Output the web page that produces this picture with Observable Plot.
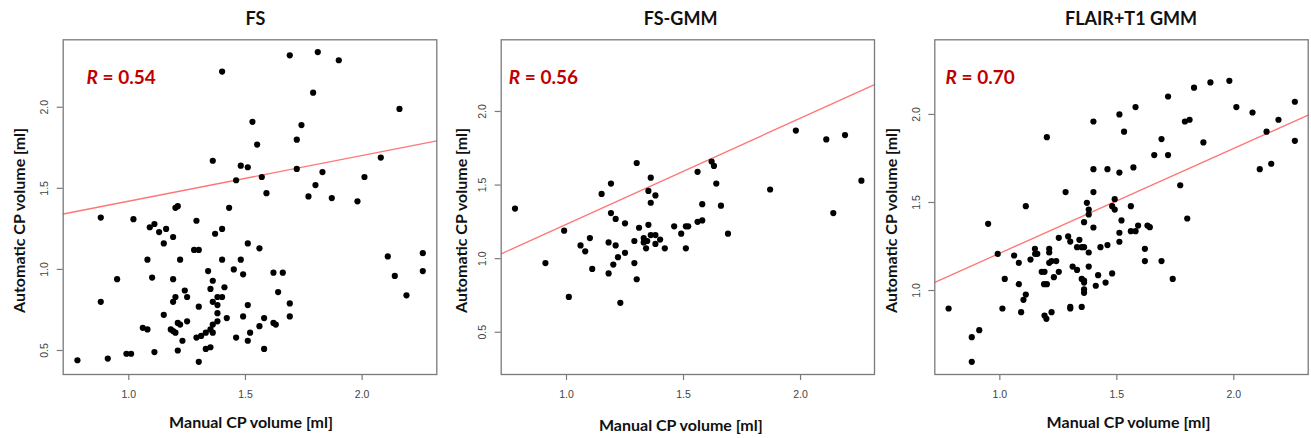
<!DOCTYPE html>
<html><head><meta charset="utf-8">
<script src="https://cdn.jsdelivr.net/npm/d3@7"></script>
<script src="https://cdn.jsdelivr.net/npm/@observablehq/plot@0.6"></script>
<style>
body{margin:0;background:#fff;}
#wrap{position:relative;width:1311px;height:438px;overflow:hidden;background:#fff;}
#wrap > div{position:absolute;top:0;}
</style></head><body><div id="wrap"></div>
<script>
// ---------- data ----------
const panelTitles = ["FS", "FS-GMM", "FLAIR+T1 GMM"];
const rValues = ["0.54", "0.56", "0.70"];
const fitIntercepts = [1.139, 0.513, 0.617];
const fitSlopes = [0.282, 0.721, 0.595];
const xTicks = [1.0, 1.5, 2.0];
const yTicksFS = [0.5, 1.0, 1.5, 2.0];
const yTicksFSGMM = [0.5, 1.0, 1.5, 2.0];
const yTicksFLAIR = [1.0, 1.5, 2.0];
const xDomains = [[0.719, 2.32], [0.721, 2.316], [0.722, 2.318]];
const yDomains = [[0.352, 2.416], [0.213, 2.487], [0.523, 2.424]];
const xLabel = "Manual CP volume [ml]";
const yLabel = "Automatic CP volume [ml]";

const fsX = [1.69,1.81,1.90,1.40,1.79,2.16,1.53,1.74,1.72,1.55,2.08,1.36,1.48,1.51,1.72,1.83,1.46,1.57,2.01,1.80,
  1.59,1.77,1.87,1.98,1.43,1.20,1.21,0.88,1.02,1.29,1.11,1.09,1.13,1.16,1.40,1.37,1.19,1.15,1.51,1.56,
  1.28,1.30,2.11,2.26,1.08,1.22,1.40,1.48,1.45,2.26,0.95,1.10,1.19,1.34,1.49,1.36,1.62,1.66,2.14,1.41,
  1.35,1.24,1.64,2.19,1.20,1.25,1.38,1.40,0.88,1.19,1.36,1.38,1.30,1.51,1.69,1.15,1.38,1.49,1.69,1.42,
  1.58,1.25,1.21,1.22,1.38,1.36,1.56,1.62,1.63,1.06,1.08,1.18,1.19,1.20,1.33,1.36,1.52,1.29,1.31,1.46,
  1.23,1.51,1.35,1.33,1.58,1.21,0.99,1.01,1.11,0.91,0.78,1.30,1.35];
const fsY = [2.32,2.34,2.29,2.22,2.09,1.99,1.91,1.89,1.80,1.77,1.69,1.67,1.64,1.63,1.62,1.60,1.55,1.57,1.57,1.52,
  1.47,1.45,1.44,1.42,1.38,1.38,1.39,1.32,1.31,1.30,1.28,1.26,1.23,1.25,1.25,1.22,1.20,1.16,1.16,1.13,
  1.12,1.12,1.08,1.10,1.06,1.06,1.06,1.06,1.00,0.99,0.94,0.95,0.94,0.99,0.97,0.93,0.98,0.98,0.96,0.89,
  0.88,0.87,0.86,0.84,0.83,0.83,0.83,0.83,0.80,0.80,0.80,0.78,0.77,0.78,0.79,0.72,0.73,0.71,0.71,0.70,
  0.70,0.68,0.67,0.66,0.68,0.66,0.65,0.67,0.66,0.64,0.63,0.63,0.62,0.61,0.61,0.61,0.61,0.58,0.59,0.58,
  0.56,0.56,0.52,0.51,0.51,0.50,0.48,0.48,0.49,0.45,0.44,0.43,0.63];

const fsgmmX = [0.78,0.91,0.99,1.01,1.06,1.08,1.10,1.11,1.15,1.18,1.18,1.19,1.19,1.20,1.21,1.21,1.22,1.23,1.25,1.25,
  1.29,1.29,1.30,1.30,1.31,1.33,1.33,1.34,1.345,1.35,1.35,1.36,1.36,1.36,1.38,1.38,1.38,1.40,1.42,1.46,
  1.49,1.51,1.52,1.51,1.56,1.56,1.58,1.58,1.62,1.63,1.64,1.66,1.69,1.87,1.98,2.11,2.14,2.19,2.26];
const fsgmmY = [1.34,0.97,1.19,0.74,1.09,1.05,1.14,0.93,1.44,0.90,1.11,1.51,1.31,0.96,1.09,1.27,1.01,0.70,1.24,1.04,
  1.12,0.97,1.65,0.86,1.21,1.14,1.11,1.07,1.12,1.23,1.46,1.55,1.38,1.16,1.43,1.16,1.10,1.13,1.07,1.22,
  1.17,1.22,1.22,1.07,1.25,1.59,1.37,1.26,1.66,1.63,1.51,1.36,1.17,1.47,1.87,1.81,1.31,1.84,1.53];

const flairX = [0.781,0.880,0.912,0.880,0.950,0.991,1.021,1.011,1.061,1.081,1.081,1.111,1.111,1.101,1.091,1.131,1.150,1.151,1.160,1.201,
  1.211,1.211,1.211,1.221,1.241,1.179,1.191,1.231,1.189,1.201,1.191,1.199,1.221,1.252,1.252,1.281,1.292,1.301,1.301,1.301,
  1.311,1.330,1.340,1.330,1.350,1.360,1.350,1.360,1.360,1.360,1.360,1.350,1.360,1.372,1.380,1.380,1.380,1.380,1.400,1.400,
  1.400,1.400,1.410,1.420,1.430,1.460,1.460,1.452,1.480,1.480,1.491,1.491,1.511,1.511,1.511,1.511,1.520,1.531,1.560,1.571,
  1.580,1.560,1.580,1.591,1.620,1.620,1.631,1.641,1.660,1.691,1.691,1.719,1.719,1.739,1.771,1.791,1.811,1.801,1.830,1.870,
  1.900,1.981,2.011,2.080,2.111,2.140,2.160,2.191,2.261,2.261];
const flairY = [0.898,0.735,0.775,0.595,1.379,1.208,1.066,0.898,1.199,1.157,1.036,1.479,0.977,0.947,0.877,1.176,1.237,1.208,1.208,1.871,
  1.237,1.216,1.157,1.167,1.167,1.106,1.106,1.076,1.036,1.036,0.858,0.839,0.877,1.299,1.106,1.559,1.307,1.278,0.907,0.898,
  1.136,1.117,1.288,1.246,1.246,1.246,1.066,1.057,1.045,1.006,0.987,0.907,1.388,1.498,1.460,1.432,1.216,1.136,1.960,1.689,
  1.559,1.358,1.027,1.087,1.246,1.689,1.258,1.045,1.097,1.479,1.519,1.460,2.000,1.670,1.328,1.277,1.398,1.902,1.479,1.699,
  2.042,1.337,1.337,1.369,1.237,1.167,1.369,1.360,1.769,1.860,1.167,2.102,1.769,1.066,1.598,1.960,1.970,1.409,2.152,1.841,
  2.182,2.191,2.042,2.011,1.689,1.902,1.720,1.970,2.072,1.850];

const seriesX = [fsX, fsgmmX, flairX];
const seriesY = [fsY, fsgmmY, flairY];
const seriesYTicks = [yTicksFS, yTicksFSGMM, yTicksFLAIR];

// ---------- layout ----------
const layout = [
  {left: 0,   width: 440, ml: 62.7, mr: 3.7, titleDx: 5.5,  xlabDx: 1,  xlabDy: 48.7, ylabDx: -43.7, rDx: 23.3},
  {left: 440, width: 438, ml: 60.7, mr: 4.0, titleDx: -7.3, xlabDx: -7, xlabDy: 51.5, ylabDx: -39.5, rDx: 7.6},
  {left: 878, width: 433, ml: 56.3, mr: 3.3, titleDx: 9.5,  xlabDx: 7,  xlabDy: 48.7, ylabDx: -42.6, rDx: 10.7}
];
const labelFont = "Lato, 'Noto Sans', sans-serif";
const tickFont = "'Liberation Sans', Arial, sans-serif";
const frameColor = "#7a7a7a";

const wrap = document.getElementById("wrap");
for (let i = 0; i < 3; i++) {
  const L = layout[i];
  const data = seriesX[i].map((x, j) => ({x, y: seriesY[i][j]}));
  const fit = xDomains[i].map(x => ({x, y: fitIntercepts[i] + fitSlopes[i] * x}));
  const svg = Plot.plot({
    width: L.width, height: 438,
    marginLeft: L.ml, marginRight: L.mr, marginTop: 39.3, marginBottom: 64,
    x: {domain: xDomains[i], label: null},
    y: {domain: yDomains[i], label: null},
    style: {background: "transparent", overflow: "visible"},
    marks: [
      Plot.line(fit, {x: "x", y: "y", stroke: "#ff7676", strokeWidth: 1.3}),
      Plot.dot(data, {x: "x", y: "y", r: 3.1, fill: "#000", stroke: "none"}),
      Plot.frame({stroke: frameColor, strokeWidth: 1.3}),
      Plot.axisX(xTicks, {tickSize: 6, tickFormat: () => "", label: null, stroke: frameColor, strokeWidth: 1.2}),
      Plot.axisY(seriesYTicks[i], {tickSize: 6, tickFormat: () => "", label: null, stroke: frameColor, strokeWidth: 1.2}),
      Plot.text(xTicks, {x: d => d, frameAnchor: "bottom", dy: 20.3, lineAnchor: "middle",
        text: d => d3.format(".1f")(d), fontSize: 10.5, fontFamily: tickFont, fill: "#444"}),
      Plot.text(seriesYTicks[i], {y: d => d, frameAnchor: "left", dx: -18.5, rotate: -90,
        textAnchor: "middle", lineAnchor: "middle",
        text: d => d3.format(".1f")(d), fontSize: 10.5, fontFamily: tickFont, fill: "#444"}),
      Plot.text([panelTitles[i]], {frameAnchor: "top", dy: -21, dx: L.titleDx, lineAnchor: "middle",
        text: d => d, fontSize: 18, fontWeight: "bold", fontFamily: labelFont, fill: "#111"}),
      Plot.text([xLabel], {frameAnchor: "bottom", dy: L.xlabDy, dx: L.xlabDx, lineAnchor: "middle",
        text: d => d, fontSize: 16, fontWeight: "bold", fontFamily: labelFont, fill: "#111"}),
      Plot.text([yLabel], {frameAnchor: "left", dx: L.ylabDx, dy: 13.3, rotate: -90, lineAnchor: "middle",
        textAnchor: "middle", text: d => d, fontSize: 16, fontWeight: "bold", fontFamily: labelFont, fill: "#111"}),
      Plot.text([rValues[i]], {frameAnchor: "top-left", dx: L.rDx, dy: 44, textAnchor: "start", lineAnchor: "bottom",
        text: d => "R = " + d, fontSize: 19, fontWeight: "bold", fontFamily: labelFont, fill: "#c00000"})
    ]
  });
  // italic "R"
  svg.querySelectorAll("text").forEach(t => {
    if (t.textContent.startsWith("R = ")) {
      const rest = t.textContent.slice(1);
      t.textContent = "";
      const ns = "http://www.w3.org/2000/svg";
      const a = document.createElementNS(ns, "tspan");
      a.setAttribute("font-style", "italic");
      a.textContent = "R";
      const b = document.createElementNS(ns, "tspan");
      b.textContent = rest;
      t.appendChild(a); t.appendChild(b);
    }
  });
  const div = document.createElement("div");
  div.style.left = L.left + "px";
  div.style.width = L.width + "px";
  div.appendChild(svg);
  wrap.appendChild(div);
}
</script></body></html>
